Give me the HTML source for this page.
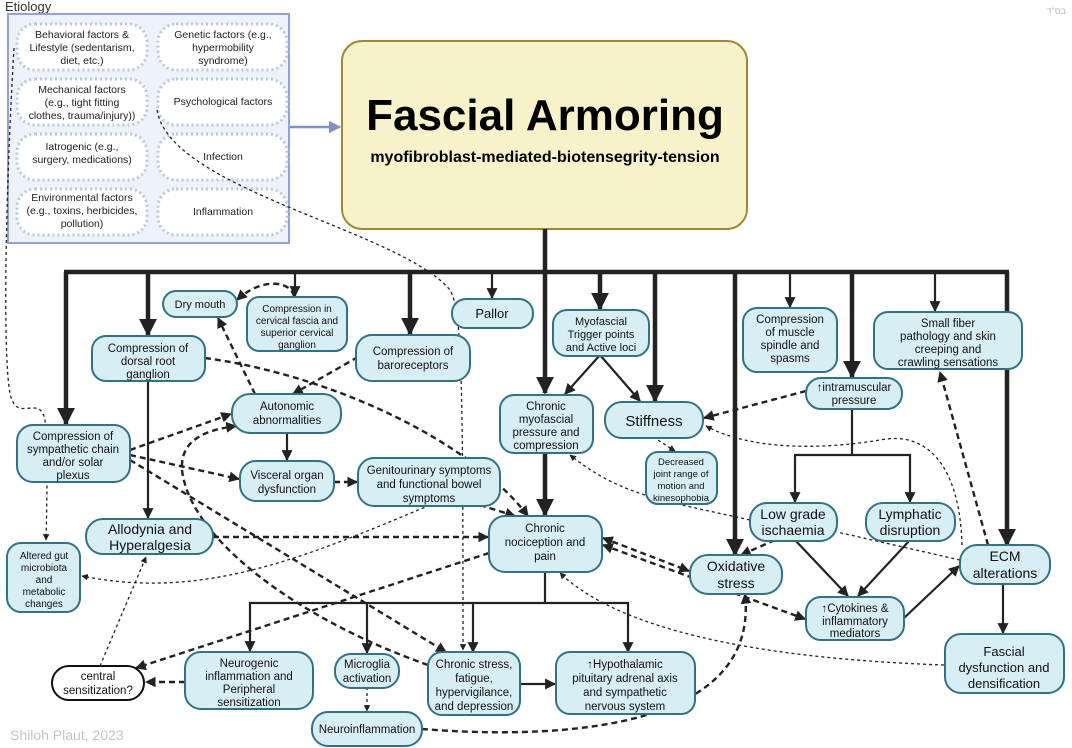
<!DOCTYPE html>
<html><head><meta charset="utf-8"><style>
body{margin:0;background:#fff;}
svg{display:block;font-family:"Liberation Sans",sans-serif;}
.n{fill:#d7eef5;stroke:#2f7385;stroke-width:2;}
.t text{font-size:11.5px;fill:#111;text-anchor:middle;}
.t text.tl{font-size:14px;}
.t text.sm{font-size:10px;}
.e{font-size:10.5px;fill:#222;text-anchor:middle;}
.p{fill:#fff;stroke:#b9c8dd;stroke-width:3;stroke-dasharray:2 3;}
.th{stroke:#222;stroke-width:4.5;fill:none;}
.s{stroke:#222;stroke-width:2.2;fill:none;}
.d{stroke:#222;stroke-width:2.4;fill:none;stroke-dasharray:6 4;}
.dt{stroke:#222;stroke-width:1.3;fill:none;stroke-dasharray:3 3;}
</style></head><body>
<svg width="1072" height="748" viewBox="0 0 1072 748">
<defs>
<marker id="a" viewBox="0 0 10 10" refX="9" refY="5" markerWidth="5" markerHeight="5" orient="auto-start-reverse"><path d="M0 0L10 5L0 10z" fill="#222"/></marker>
<marker id="A" viewBox="0 0 10 10" refX="9" refY="5" markerWidth="5" markerHeight="5" orient="auto"><path d="M0 0L10 5L0 10z" fill="#222"/></marker>
<marker id="b" viewBox="0 0 10 10" refX="9" refY="5" markerWidth="4.5" markerHeight="4.5" orient="auto-start-reverse"><path d="M0 0L10 5L0 10z" fill="#222"/></marker>
<marker id="c" viewBox="0 0 10 10" refX="9" refY="5" markerWidth="4" markerHeight="4" orient="auto"><path d="M0 0L10 5L0 10z" fill="#222"/></marker>
<marker id="bl" viewBox="0 0 10 10" refX="9" refY="5" markerWidth="5" markerHeight="5" orient="auto"><path d="M0 0L10 5L0 10z" fill="#7f90c5"/></marker>
</defs>
<text x="5" y="11" font-size="13" fill="#333">Etiology</text>
<text x="1066" y="14" font-size="9" fill="#bbb" text-anchor="end">בס"ד</text>
<rect x="8" y="14" width="281" height="229" fill="#eef3fb" stroke="#8fa3d6" stroke-width="2"/>
<g>
<rect class="p" x="17" y="24" width="130" height="46" rx="18"/>
<rect class="p" x="158" y="24" width="129" height="46" rx="18"/>
<rect class="p" x="17" y="79" width="130" height="46" rx="18"/>
<rect class="p" x="158" y="79" width="129" height="46" rx="18"/>
<rect class="p" x="17" y="134" width="130" height="46" rx="18"/>
<rect class="p" x="158" y="134" width="129" height="46" rx="18"/>
<rect class="p" x="17" y="189" width="130" height="46" rx="18"/>
<rect class="p" x="158" y="189" width="129" height="46" rx="18"/>
</g>
<g class="e">
<text x="82" y="38">Behavioral factors &amp;</text><text x="82" y="51">Lifestyle (sedentarism,</text><text x="82" y="64">diet, etc.)</text>
<text x="223" y="38">Genetic factors (e.g.,</text><text x="223" y="51">hypermobility</text><text x="223" y="64">syndrome)</text>
<text x="82" y="93">Mechanical factors</text><text x="82" y="106">(e.g., tight fitting</text><text x="82" y="119">clothes, trauma/injury))</text>
<text x="223" y="105">Psychological factors</text>
<text x="82" y="150">Iatrogenic (e.g.,</text><text x="82" y="163">surgery, medications)</text>
<text x="223" y="160">Infection</text>
<text x="82" y="201">Environmental factors</text><text x="82" y="214">(e.g., toxins, herbicides,</text><text x="82" y="227">pollution)</text>
<text x="223" y="215">Inflammation</text>
</g>
<line x1="290" y1="127" x2="340" y2="127" stroke="#7f90c5" stroke-width="2.5" marker-end="url(#bl)"/>
<rect x="342" y="41" width="405" height="188" rx="20" fill="#f7f2c9" stroke="#a0892c" stroke-width="2"/>
<text x="545" y="130" font-size="44" font-weight="bold" text-anchor="middle" fill="#000">Fascial Armoring</text>
<text x="545" y="162" font-size="16" font-weight="bold" text-anchor="middle" fill="#000">myofibroblast-mediated-biotensegrity-tension</text>

<line class="th" x1="545" y1="229" x2="545" y2="272"/>
<line class="th" x1="64" y1="272" x2="1009" y2="272"/>
<g class="th">
<line x1="66" y1="272" x2="66" y2="424" marker-end="url(#c)"/>
<line x1="148" y1="272" x2="148" y2="335" marker-end="url(#c)"/>
<line x1="410" y1="272" x2="410" y2="334" marker-end="url(#c)"/>
<line x1="545" y1="272" x2="545" y2="393" marker-end="url(#c)"/>
<line x1="600" y1="272" x2="600" y2="309" marker-end="url(#c)"/>
<line x1="655" y1="272" x2="655" y2="401" marker-end="url(#c)"/>
<line x1="735" y1="272" x2="735" y2="555" marker-end="url(#c)"/>
<line x1="852" y1="272" x2="852" y2="377" marker-end="url(#c)"/>
<line x1="1007" y1="272" x2="1007" y2="545" marker-end="url(#c)"/>
</g>
<g class="s">
<line x1="295" y1="272" x2="295" y2="296" marker-end="url(#a)"/>
<line x1="492" y1="272" x2="492" y2="298" marker-end="url(#a)"/>
<line x1="790" y1="272" x2="790" y2="307" marker-end="url(#a)"/>
<line x1="935" y1="272" x2="935" y2="311" marker-end="url(#a)"/>
<line x1="148" y1="380" x2="148" y2="518" marker-end="url(#a)"/>
<line x1="287" y1="432" x2="287" y2="460" marker-end="url(#a)"/>
<line x1="600" y1="355" x2="565" y2="394" marker-end="url(#a)"/>
<line x1="600" y1="355" x2="640" y2="401" marker-end="url(#a)"/>
<line x1="852" y1="408" x2="852" y2="455"/>
<polyline points="795,502 795,455 910,455 910,502" marker-start="url(#a)" marker-end="url(#a)"/>
<line x1="795" y1="540" x2="848" y2="596" marker-end="url(#a)"/>
<line x1="910" y1="540" x2="858" y2="596" marker-end="url(#a)"/>
<line x1="904" y1="618" x2="959" y2="566" marker-end="url(#a)"/>
<line x1="1003" y1="584" x2="1003" y2="633" marker-end="url(#a)"/>
<line x1="545" y1="572" x2="545" y2="603"/>
<polyline points="250,651 250,603 628,603 628,652" marker-start="url(#a)" marker-end="url(#a)"/>
<line x1="367" y1="603" x2="367" y2="653" marker-end="url(#a)"/>
<line x1="473" y1="603" x2="473" y2="652" marker-end="url(#a)"/>
<line x1="500" y1="684" x2="555" y2="684" marker-start="url(#a)" marker-end="url(#a)"/>
</g>
<line x1="545" y1="452" x2="545" y2="515" class="th" marker-end="url(#c)"/>

<g class="d">
<path d="M294 296 C290 280 260 278 237 300" marker-end="url(#b)"/>
<line x1="255" y1="394" x2="218" y2="318" marker-end="url(#b)"/>
<line x1="358" y1="357" x2="293" y2="394" marker-end="url(#b)"/>
<path d="M205 358 C330 375 470 440 528 516" marker-end="url(#b)"/>
<line x1="130" y1="450" x2="231" y2="414" marker-end="url(#b)"/>
<line x1="130" y1="455" x2="239" y2="479" marker-end="url(#b)"/>
<line x1="130" y1="460" x2="446" y2="652" marker-end="url(#b)"/>
<path d="M428 665 C300 620 190 540 182 470 C180 440 205 430 236 426" marker-end="url(#b)"/>
<line x1="334" y1="482" x2="357" y2="482" marker-end="url(#b)"/>
<line x1="480" y1="505" x2="515" y2="516" marker-end="url(#b)"/>
<line x1="213" y1="537" x2="488" y2="537" marker-end="url(#b)"/>
<line x1="489" y1="553" x2="136" y2="668" marker-end="url(#b)"/>
<line x1="185" y1="682" x2="146" y2="682" marker-end="url(#b)"/>
<path d="M422 729 C560 740 760 730 745 594" marker-end="url(#b)"/>
<line x1="603" y1="538" x2="689" y2="571" marker-start="url(#b)" marker-end="url(#b)"/>
<line x1="603" y1="545" x2="805" y2="619" marker-start="url(#b)" marker-end="url(#b)"/>
<line x1="775" y1="540" x2="741" y2="555" marker-end="url(#b)"/>
<line x1="806" y1="391" x2="704" y2="418" marker-end="url(#b)"/>
<line x1="988" y1="545" x2="940" y2="372" marker-end="url(#b)"/>
</g>
<g class="dt">
<path d="M14 48 C5 200 2 380 12 400 C20 420 40 395 45 420 C48 450 47 500 46 540" marker-end="url(#A)"/>
<path d="M157 110 C170 190 400 230 450 290 C462 310 463 380 463 650" marker-end="url(#A)"/>
<path d="M430 505 C300 560 200 600 82 576" marker-end="url(#A)"/>
<line x1="100" y1="666" x2="146" y2="557" marker-end="url(#A)"/>
<line x1="367" y1="687" x2="367" y2="711" marker-end="url(#A)"/>
<line x1="653" y1="437" x2="675" y2="451" marker-end="url(#A)"/>
<path d="M750 520 C660 500 620 495 570 455" marker-end="url(#A)"/>
<line x1="960" y1="560" x2="837" y2="532"/>
<path d="M962 545 C960 470 930 430 880 440 C820 450 750 450 706 426" marker-end="url(#A)"/>
<path d="M944 665 C800 660 630 640 560 573" marker-end="url(#A)"/>
</g>

<rect class="n" x="163" y="291" width="74" height="26" rx="13"/>
<rect class="n" x="247" y="297" width="100" height="54" rx="12"/>
<rect class="n" x="452" y="299" width="81" height="29" rx="14"/>
<rect class="n" x="553" y="310" width="96" height="46" rx="14"/>
<rect class="n" x="743" y="308" width="94" height="64" rx="14"/>
<rect class="n" x="874" y="312" width="148" height="57" rx="14"/>
<rect class="n" x="92" y="336" width="113" height="45" rx="14"/>
<rect class="n" x="356" y="335" width="114" height="46" rx="16"/>
<rect class="n" x="806" y="378" width="96" height="31" rx="15"/>
<rect class="n" x="232" y="394" width="109" height="39" rx="18"/>
<rect class="n" x="500" y="395" width="93" height="58" rx="14"/>
<rect class="n" x="605" y="402" width="98" height="36" rx="17"/>
<rect class="n" x="17" y="425" width="113" height="57" rx="16"/>
<rect class="n" x="646" y="452" width="71" height="52" rx="12"/>
<rect class="n" x="240" y="461" width="94" height="40" rx="16"/>
<rect class="n" x="358" y="458" width="142" height="48" rx="16"/>
<rect class="n" x="750" y="503" width="87" height="38" rx="17"/>
<rect class="n" x="866" y="503" width="89" height="38" rx="17"/>
<rect class="n" x="86" y="519" width="127" height="35" rx="17"/>
<rect class="n" x="7" y="543" width="73" height="69" rx="14"/>
<rect class="n" x="489" y="516" width="113" height="56" rx="16"/>
<rect class="n" x="690" y="555" width="92" height="39" rx="18"/>
<rect class="n" x="960" y="545" width="90" height="39" rx="17"/>
<rect class="n" x="806" y="597" width="98" height="43" rx="15"/>
<rect class="n" x="945" y="634" width="119" height="59" rx="16"/>
<rect x="52" y="666" width="92" height="34" rx="17" fill="#fff" stroke="#111" stroke-width="2"/>
<rect class="n" x="185" y="652" width="128" height="57" rx="16"/>
<rect class="n" x="335" y="654" width="64" height="34" rx="16"/>
<rect class="n" x="428" y="652" width="92" height="63" rx="14"/>
<rect class="n" x="556" y="652" width="139" height="62" rx="14"/>
<rect class="n" x="312" y="712" width="110" height="34" rx="16"/>

<g class="t">
<text x="200" y="308" class="sm" style="font-size:11px">Dry mouth</text>
<text x="297" y="312" class="sm">Compression in</text><text x="297" y="324" class="sm">cervical fascia and</text><text x="297" y="336" class="sm">superior cervical</text><text x="297" y="348" class="sm">ganglion</text>
<text x="492" y="318" class="tl" style="font-size:13px">Pallor</text>
<text x="601" y="325" style="font-size:11px">Myofascial</text><text x="601" y="338" style="font-size:11px">Trigger points</text><text x="601" y="351" style="font-size:11px">and Active loci</text>
<text x="790" y="323">Compression</text><text x="790" y="336">of muscle</text><text x="790" y="349">spindle and</text><text x="790" y="362">spasms</text>
<text x="948" y="327">Small fiber</text><text x="948" y="340">pathology and skin</text><text x="948" y="353">creeping and</text><text x="948" y="366">crawling sensations</text>
<text x="148" y="352">Compression of</text><text x="148" y="365">dorsal root</text><text x="148" y="378">ganglion</text>
<text x="413" y="355">Compression of</text><text x="413" y="369">baroreceptors</text>
<text x="854" y="391">↑intramuscular</text><text x="854" y="404">pressure</text>
<text x="287" y="410">Autonomic</text><text x="287" y="424">abnormalities</text>
<text x="546" y="410">Chronic</text><text x="546" y="423">myofascial</text><text x="546" y="436">pressure and</text><text x="546" y="449">compression</text>
<text x="654" y="426" class="tl" style="font-size:15px">Stiffness</text>
<text x="73" y="440">Compression of</text><text x="73" y="453">sympathetic chain</text><text x="73" y="466">and/or solar</text><text x="73" y="479">plexus</text>
<text x="681" y="465" style="font-size:9.5px">Decreased</text><text x="681" y="477" style="font-size:9.5px">joint range of</text><text x="681" y="489" style="font-size:9.5px">motion and</text><text x="681" y="501" style="font-size:9.5px">kinesophobia</text>
<text x="287" y="479">Visceral organ</text><text x="287" y="493">dysfunction</text>
<text x="429" y="474">Genitourinary symptoms</text><text x="429" y="488">and functional bowel</text><text x="429" y="502">symptoms</text>
<text x="793" y="519" class="tl">Low grade</text><text x="793" y="535" class="tl">ischaemia</text>
<text x="910" y="519" class="tl">Lymphatic</text><text x="910" y="535" class="tl">disruption</text>
<text x="150" y="534" class="tl">Allodynia and</text><text x="150" y="550" class="tl">Hyperalgesia</text>
<text x="44" y="559" class="sm">Altered gut</text><text x="44" y="571" class="sm">microbiota</text><text x="44" y="583" class="sm">and</text><text x="44" y="595" class="sm">metabolic</text><text x="44" y="607" class="sm">changes</text>
<text x="545" y="532">Chronic</text><text x="545" y="546">nociception and</text><text x="545" y="560">pain</text>
<text x="736" y="571" class="tl">Oxidative</text><text x="736" y="588" class="tl">stress</text>
<text x="1005" y="561" class="tl">ECM</text><text x="1005" y="578" class="tl">alterations</text>
<text x="855" y="612">↑Cytokines &amp;</text><text x="855" y="625">inflammatory</text><text x="855" y="637">mediators</text>
<text x="1004" y="656" class="tl" style="font-size:13px">Fascial</text><text x="1004" y="672" class="tl" style="font-size:13px">dysfunction and</text><text x="1004" y="688" class="tl" style="font-size:13px">densification</text>
<text x="98" y="680">central</text><text x="98" y="694">sensitization?</text>
<text x="249" y="667">Neurogenic</text><text x="249" y="680">inflammation and</text><text x="249" y="693">Peripheral</text><text x="249" y="706">sensitization</text>
<text x="367" y="668">Microglia</text><text x="367" y="682">activation</text>
<text x="474" y="668">Chronic stress,</text><text x="474" y="682">fatigue,</text><text x="474" y="696">hypervigilance,</text><text x="474" y="710">and depression</text>
<text x="625" y="668">↑Hypothalamic</text><text x="625" y="682">pituitary adrenal axis</text><text x="625" y="696">and sympathetic</text><text x="625" y="710">nervous system</text>
<text x="367" y="733">Neuroinflammation</text>
</g>
<text x="10" y="740" font-size="14" fill="#c4c4c4">Shiloh Plaut, 2023</text>
</svg>
</body></html>
